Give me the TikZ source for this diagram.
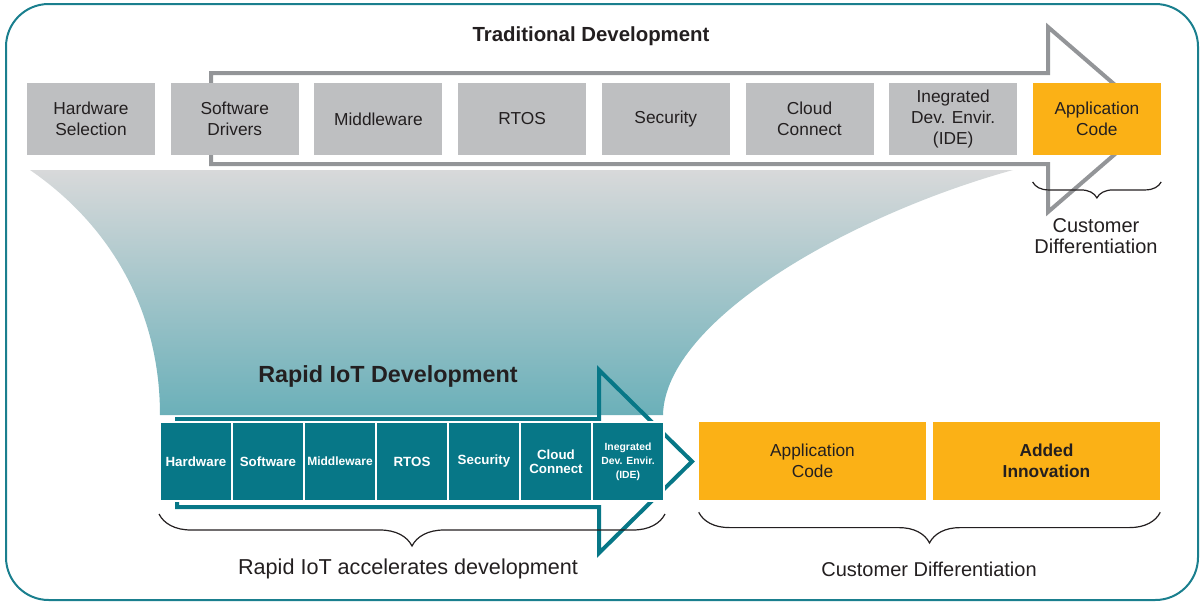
\documentclass[tikz,border=0pt]{standalone}
\usepackage{fontspec}
\setmainfont{Liberation Sans}
\usetikzlibrary{positioning,
        decorations.pathreplacing}
\definecolor{boxgrey}{HTML}{BEBFC1}
\definecolor{linegrey}{HTML}{939598}
\definecolor{appgold}{HTML}{FBB116}
\definecolor{iotteal}{HTML}{077787}
\definecolor{frameteal}{HTML}{1A7F8E}
\definecolor{fadegrey}{HTML}{D8D9DA}
\definecolor{fadeteal}{HTML}{6BB0B9}
\definecolor{inkblack}{HTML}{231F20}

\begin{document}
\begin{tikzpicture}[x=0.75pt,y=-0.75pt,
    oldbox/.style={fill=boxgrey,minimum width=96pt,minimum height=54pt,inner sep=0pt,align=center,text=inkblack,font=\fontsize{13}{15.75}\selectfont},
    appbox/.style={fill=appgold,minimum width=170.25pt,minimum height=58.5pt,inner sep=0pt,align=center,text=inkblack,font=\fontsize{13}{15.75}\selectfont},
    iotbox/.style={fill=iotteal,draw=white,line width=1.5pt,minimum width=54pt,minimum height=59.25pt,inner sep=0pt,align=center,text=white,font=\fontsize{10}{10.5}\selectfont\bfseries},
    bracket/.style={decorate,draw=inkblack,line width=0.9pt},
    caption/.style={text=inkblack,align=center,font=\fontsize{15}{15.75}\selectfont}]
    \useasboundingbox (0,0) rectangle (1200,603);
    \draw [frameteal,line width=1.5pt,rounded corners=32pt] (6,4) rectangle (1198,600);

    % funnel between the two rows
    \shade [top color=fadegrey,bottom color=fadeteal] (30,170) -- (1013,170) .. controls (850,215) and (665,320) .. (663,415) -- (160,415) .. controls (160,310) and (110,225) .. (30,170) -- cycle;

    % traditional development
    \node [text=inkblack,font=\fontsize{15.3}{18}\selectfont\bfseries] (oldtitle) at (591,36) {Traditional Development};
    \draw [linegrey,line width=3pt] (211,73) -- (1048,73) -- (1048,27) -- (1155,119.5) -- (1048,212) -- (1048,164) -- (211,164) -- cycle;
    \node [oldbox] (oldhw) at (91,119) {Hardware\\Selection};
    \node [oldbox] (oldsw) at (234.7,119) {Software\\Drivers};
    \node [oldbox] (oldmw) at (378.4,119) {Middleware};
    \node [oldbox] (oldrtos) at (522.1,119) {RTOS};
    \node [oldbox] (oldsec) at (665.8,119) {Security};
    \node [oldbox] (oldcloud) at (809.5,119) {Cloud\\Connect};
    \node [oldbox] (oldide) at (953.2,119) {Inegrated\\Dev. Envir.\\(IDE)};
    \node [oldbox,fill=appgold] (oldapp) at (1096.9,119) {Application\\Code};
    \draw [bracket,decoration={brace,mirror,amplitude=12pt}] ([yshift=-20pt]oldapp.south west) -- ([yshift=-20pt]oldapp.south east);
    \node [caption] (olddiff) at (1096,236.5) {Customer\\Differentiation};

    % rapid iot development
    \node [text=inkblack,font=\fontsize{17.5}{21}\selectfont\bfseries] (iottitle) at (388,376) {Rapid IoT Development};
    \draw [iotteal,line width=3pt] (177,419) -- (599,419) -- (599,370) -- (692,461.5) -- (599,553) -- (599,507) -- (177,507) -- cycle;
    \node [iotbox] (iothw) at (196,461.5) {Hardware};
    \node [iotbox] (iotsw) at (268,461.5) {Software};
    \node [iotbox,font=\fontsize{9}{10.5}\selectfont\bfseries] (iotmw) at (340,461.5) {Middleware};
    \node [iotbox] (iotrtos) at (412,461.5) {RTOS};
    \node [iotbox] (iotsec) at (484,461.5) {Security};
    \node [iotbox] (iotcloud) at (556,461.5) {Cloud\\Connect};
    \node [iotbox,font=\fontsize{7.8}{10.5}\selectfont\bfseries] (iotide) at (628,461.5) {Inegrated\\Dev. Envir.\\(IDE)};
    \node [appbox] (newapp) at (812.5,461) {Application\\Code};
    \node [appbox,font=\fontsize{13}{15.75}\selectfont\bfseries] (newidea) at (1046.5,461) {Added\\Innovation};

    \draw [bracket,decoration={brace,mirror,amplitude=24pt}] ([yshift=-9pt]iothw.south west) -- ([yshift=-9pt]iotide.south east);
    \draw [bracket,decoration={brace,mirror,amplitude=23pt}] ([yshift=-9pt]newapp.south west) -- ([yshift=-9pt]newidea.south east);
    \node [caption,font=\fontsize{16.2}{18}\selectfont] (iotnote) at (408,569) {Rapid IoT accelerates development};
    \node [caption] (newdiff) at (929,569) {Customer Differentiation};
\end{tikzpicture}
\end{document}
